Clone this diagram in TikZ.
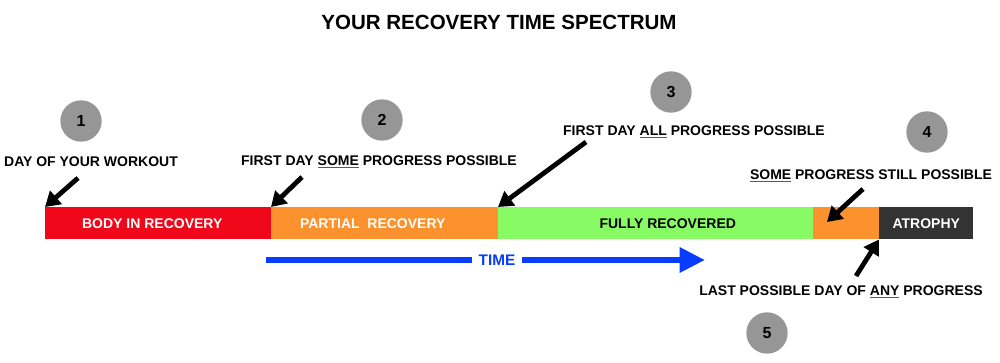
\documentclass[tikz,border=0pt]{standalone}
\usepackage{fontspec}
\setmainfont{Liberation Sans}
\usetikzlibrary{arrows.meta}
\definecolor{cred}{RGB}{240,8,26}
\definecolor{corange}{RGB}{251,146,45}
\definecolor{cgreen}{RGB}{136,250,100}
\definecolor{cdark}{RGB}{51,51,51}
\definecolor{cblue}{RGB}{8,60,255}
\definecolor{cgray}{RGB}{150,150,150}
\newcommand{\ulg}[1]{\setbox0\hbox{#1}\rlap{\color{black!65}\rule[-2pt]{\wd0}{0.65pt}}\box0\relax}
\begin{document}
\begin{tikzpicture}[x=0.75pt,y=-0.75pt,
  seg/.style={draw=none,anchor=north west,minimum height=24pt,inner sep=0pt},
  segtext/.style={font=\bfseries\fontsize{10.5}{12}\selectfont,inner sep=0pt},
  lbl/.style={font=\bfseries\fontsize{10.5}{12}\selectfont,inner sep=0pt},
  num/.style={circle,fill=cgray,minimum size=31pt,inner sep=0pt,font=\bfseries\fontsize{12}{14}\selectfont},
  pointer/.style={line width=3.6pt,-{Triangle[length=11pt,width=13pt]}},
  timearrow/.style={cblue,line width=4.5pt,-{Triangle[length=19pt,width=18pt]}}]
\useasboundingbox (0,0) rectangle (1000,363);
\node[font=\bfseries\fontsize{15.4}{18}\selectfont] (title) at (499,22) {YOUR RECOVERY TIME SPECTRUM};
% bar
\node[seg,fill=cred,minimum width=226*0.75pt] (s1) at (45,207) {};
\node[seg,fill=corange,minimum width=227*0.75pt] (s2) at (271,207) {};
\node[seg,fill=cgreen,minimum width=315*0.75pt] (s3) at (498,207) {};
\node[seg,fill=corange,minimum width=66*0.75pt] (s4) at (813,207) {};
\node[seg,fill=cdark,minimum width=94*0.75pt] (s5) at (879,207) {};
\node[segtext,text=white] (b1) at ([xshift=-4.5pt]s1.center) {BODY IN RECOVERY};
\node[segtext,text=white] (b2) at ([xshift=-9pt]s2.center) {PARTIAL\ \ RECOVERY};
\node[segtext,text=black] (b3) at ([xshift=9pt]s3.center) {FULLY RECOVERED};
\node[segtext,text=white] (b5) at (s5.center) {ATROPHY};
% circles
\node[num] (n1) at (81,121) {1};
\node[num] (n2) at (382,120) {2};
\node[num] (n3) at (671,92) {3};
\node[num] (n4) at (927,132) {4};
\node[num] (n5) at (767,333) {5};
% labels
\node[lbl] (l1) at (91,162) {DAY OF YOUR WORKOUT};
\node[lbl] (l2) at (379,162) {FIRST DAY \ulg{SOME} PROGRESS POSSIBLE};
\node[lbl] (l3) at (694,132) {FIRST DAY \ulg{ALL} PROGRESS POSSIBLE};
\node[lbl] (l4) at (871,176) {\ulg{SOME} PROGRESS STILL POSSIBLE};
\node[lbl] (l5) at (841,292) {LAST POSSIBLE DAY OF \ulg{ANY} PROGRESS};
% pointer coordinates
\coordinate (t1) at (78,178);
\coordinate (t2) at (302,177);
\coordinate (t3) at (586,142);
\coordinate (t4) at (863,189);
\coordinate (p4) at (827,222);
\coordinate (t5) at (856,276);
\draw[pointer] (t1) -- (s1.north west);
\draw[pointer] (t2) -- (s2.north west);
\draw[pointer] (t3) -- (s3.north west);
\draw[pointer] (t4) -- (p4);
\draw[pointer] (t5) -- (s5.south west);
% time arrow
\node[lbl,text=cblue,font=\bfseries\fontsize{11.5}{13}\selectfont,inner xsep=5pt] (time) at (497,260) {TIME};
\coordinate (ts) at (266,260);
\coordinate (te) at (705,260);
\draw[cblue,line width=4.5pt] (ts) -- (time.west);
\draw[timearrow] (time.east) -- (te);
\end{tikzpicture}
\end{document}
